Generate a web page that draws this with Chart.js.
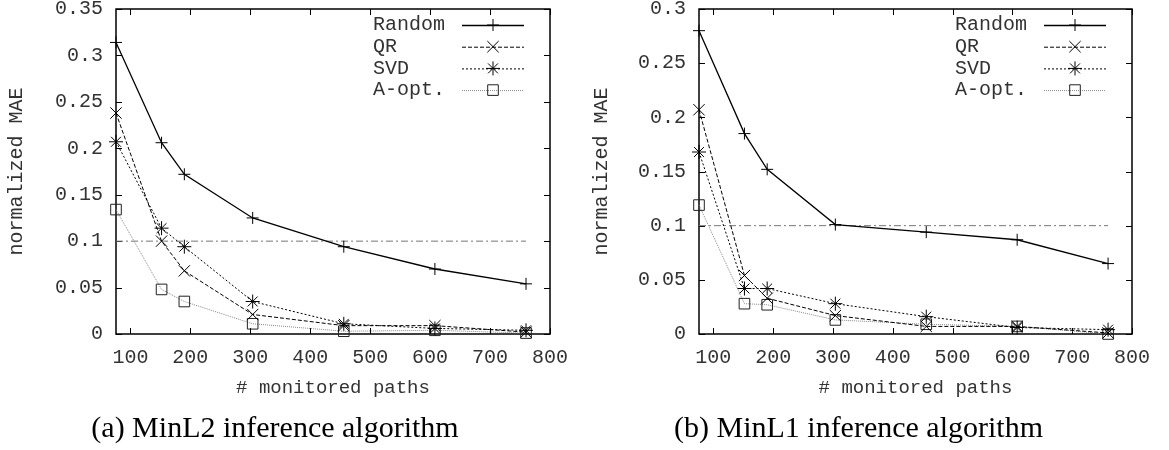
<!DOCTYPE html>
<html>
<head>
<meta charset="utf-8">
<script src="https://cdn.jsdelivr.net/npm/chart.js@4/dist/chart.umd.min.js"></script>
<style>
  html, body { margin: 0; padding: 0; background: #fff; }
  #wrap { position: relative; width: 1169px; height: 450px; }
  .panel { position: absolute; top: 0; height: 450px; }
  #pa { left: 0; width: 585px; }
  #pb { left: 585px; width: 584px; }
</style>
</head>
<body>
<div id="wrap">
  <div class="panel" id="pa"><canvas id="ca"></canvas></div>
  <div class="panel" id="pb"><canvas id="cb"></canvas></div>
</div>
<script>
// Number of monitored paths (x positions of every series)
const paths = [76, 152, 190, 304, 456, 608, 760];
const xTicks = [100, 200, 300, 400, 500, 600, 700, 800];
const yTicksL2 = [0, 0.05, 0.1, 0.15, 0.2, 0.25, 0.3, 0.35];
const yTicksL1 = [0, 0.05, 0.1, 0.15, 0.2, 0.25, 0.3];
const seriesNames = ['Random', 'QR', 'SVD', 'A-opt.'];
const targetLevel = 0.1;

// (a) MinL2 inference — normalized MAE
const l2Random = [0.314, 0.206, 0.172, 0.125, 0.094, 0.070, 0.054];
const l2QR     = [0.238, 0.100, 0.068, 0.021, 0.009, 0.009, 0.002];
const l2SVD    = [0.207, 0.114, 0.094, 0.035, 0.011, 0.006, 0.004];
const l2Aopt   = [0.134, 0.048, 0.035, 0.011, 0.003, 0.004, 0.001];

// (b) MinL1 inference — normalized MAE
const l1Random = [0.280, 0.185, 0.152, 0.101, 0.094, 0.087, 0.065];
const l1QR     = [0.207, 0.054, 0.033, 0.017, 0.007, 0.007, 0.001];
const l1SVD    = [0.168, 0.042, 0.042, 0.028, 0.016, 0.006, 0.004];
const l1Aopt   = [0.119, 0.028, 0.027, 0.013, 0.009, 0.007, 0.000];

const MONO = 'Liberation Mono';
const TXT = '#333';

const styles = [
  { borderColor: '#000', borderWidth: 1.3, borderDash: [],     pointStyle: 'cross',    pointRadius: 6 },
  { borderColor: '#000', borderWidth: 1,   borderDash: [4, 2], pointStyle: 'crossRot', pointRadius: 8 },
  { borderColor: '#000', borderWidth: 1,   borderDash: [2, 2], pointStyle: 'star',     pointRadius: 7 },
  { borderColor: '#888', borderWidth: 1,   borderDash: [1, 1], pointStyle: 'rect',     pointRadius: 7.5 }
];

function toPoints(ys) { return paths.map((x, i) => ({ x: x, y: ys[i] })); }

// Border box, inward ticks on all four sides, and the key in the upper right
const framePlugin = {
  id: 'frame',
  beforeDatasetsDraw(chart) {
    const { ctx, chartArea: a, scales } = chart;
    ctx.save();
    ctx.strokeStyle = '#000';
    ctx.lineWidth = 1;
    const tl = 6;
    ctx.beginPath();
    xTicks.forEach(v => {
      const px = Math.round(scales.x.getPixelForValue(v)) + 0.5;
      ctx.moveTo(px, a.bottom); ctx.lineTo(px, a.bottom - tl);
      ctx.moveTo(px, a.top); ctx.lineTo(px, a.top + tl);
    });
    scales.y.ticks.forEach(t => {
      const py = Math.round(scales.y.getPixelForValue(t.value)) + 0.5;
      ctx.moveTo(a.left, py); ctx.lineTo(a.left + tl, py);
      ctx.moveTo(a.right, py); ctx.lineTo(a.right - tl, py);
    });
    ctx.stroke();
    ctx.lineWidth = 1.5;
    ctx.strokeRect(a.left, a.top, a.right - a.left, a.bottom - a.top);
    ctx.restore();
  },
  afterDatasetsDraw(chart) {
    const { ctx, chartArea: a } = chart;
    ctx.save();
    ctx.font = '20px "' + MONO + '"';
    ctx.textBaseline = 'middle';
    ctx.textAlign = 'left';
    chart.data.datasets.forEach((ds, i) => {
      if (i >= seriesNames.length) return;
      const y = a.top + 16 + i * 21.7;
      ctx.fillStyle = TXT;
      ctx.fillText(ds.label, a.right - 177, y);
      ctx.strokeStyle = ds.borderColor;
      ctx.lineWidth = ds.borderWidth;
      ctx.setLineDash(ds.borderDash);
      ctx.beginPath();
      ctx.moveTo(a.right - 88, y + 0.5);
      ctx.lineTo(a.right - 26, y + 0.5);
      ctx.stroke();
      ctx.setLineDash([]);
      ctx.strokeStyle = i === 3 ? '#222' : '#000';
      ctx.fillStyle = 'rgba(0,0,0,0)';
      ctx.lineWidth = 1;
      Chart.helpers.drawPoint(ctx, { pointStyle: ds.pointStyle, radius: ds.pointRadius, rotation: 0, borderWidth: 1 }, a.right - 57, y);
    });
    ctx.restore();
  }
};

function makeChart(id, series, yTicks, yMax, yWidth, rightPad, caption) {
  const datasets = series.map((ys, i) => ({
    label: seriesNames[i],
    data: toPoints(ys),
    borderColor: styles[i].borderColor,
    borderWidth: styles[i].borderWidth,
    borderDash: styles[i].borderDash,
    pointStyle: styles[i].pointStyle,
    pointRadius: styles[i].pointRadius,
    pointBorderColor: i === 3 ? '#222' : '#000',
    pointBackgroundColor: 'rgba(0,0,0,0)',
    pointBorderWidth: 1,
    tension: 0,
    clip: false
  }));
  // reference level
  datasets.push({
    label: 'target',
    data: [{ x: paths[0], y: targetLevel }, { x: paths[paths.length - 1], y: targetLevel }],
    borderColor: '#777',
    borderWidth: 1,
    borderDash: [7, 3, 2, 3],
    pointRadius: 0,
    clip: false
  });

  return new Chart(document.getElementById(id), {
    type: 'line',
    data: { datasets: datasets },
    plugins: [framePlugin],
    options: {
      responsive: true,
      maintainAspectRatio: false,
      animation: false,
      events: [],
      layout: { padding: { top: 9, left: 0, right: rightPad, bottom: 0 } },
      plugins: {
        legend: { display: false },
        tooltip: { enabled: false },
        title: {
          display: true,
          position: 'bottom',
          text: caption,
          color: '#000',
          font: { family: 'Liberation Serif', size: 30, weight: 'normal' },
          padding: { top: 2, bottom: 3 }
        }
      },
      scales: {
        x: {
          type: 'linear',
          min: paths[0],
          max: 800,
          afterBuildTicks: s => { s.ticks = xTicks.map(v => ({ value: v })); },
          afterFit: s => { s.height = 75; s.paddingLeft = 0; s.paddingRight = 0; },
          grid: { display: false, drawTicks: false },
          border: { display: false },
          ticks: { color: TXT, padding: 12, font: { family: MONO, size: 20 }, callback: v => String(v) },
          title: {
            display: true, text: '# monitored paths', color: TXT,
            font: { family: MONO, size: 19 }, padding: { top: 0, bottom: 10 }
          }
        },
        y: {
          type: 'linear',
          min: 0,
          max: yMax,
          afterBuildTicks: s => { s.ticks = yTicks.map(v => ({ value: v })); },
          afterFit: s => { s.width = yWidth; s.paddingTop = 0; s.paddingBottom = 0; },
          grid: { display: false, drawTicks: false },
          border: { display: false },
          ticks: { color: TXT, padding: 13, font: { family: MONO, size: 20 }, callback: v => String(+v.toFixed(2)) },
          title: {
            display: true, text: 'normalized MAE', color: TXT,
            font: { family: MONO, size: 20 }, padding: { top: 5, bottom: 0 }
          }
        }
      }
    }
  });
}

makeChart('ca', [l2Random, l2QR, l2SVD, l2Aopt], yTicksL2, 0.35, 116, 35, '(a) MinL2 inference algorithm');
makeChart('cb', [l1Random, l1QR, l1SVD, l1Aopt], yTicksL1, 0.3, 114, 37, '(b) MinL1 inference algorithm');
</script>
</body>
</html>
